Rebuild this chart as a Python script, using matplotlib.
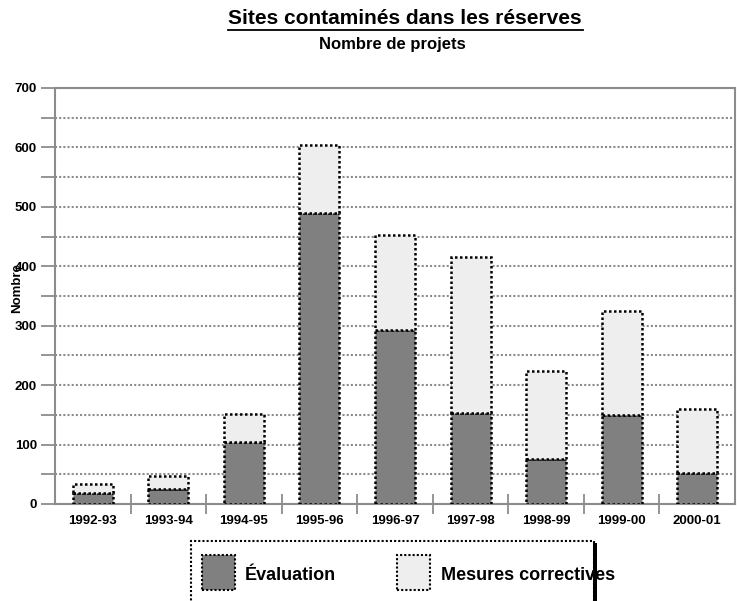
import matplotlib
matplotlib.use("Agg")
import matplotlib.pyplot as plt
from matplotlib.patches import Rectangle
import numpy as np

plt.rcParams['font.family'] = ['Liberation Sans', 'DejaVu Sans']
plt.rcParams['font.weight'] = 'bold'

years = ["1992-93", "1993-94", "1994-95", "1995-96", "1996-97",
         "1997-98", "1998-99", "1999-00", "2000-01"]
evaluation = [18, 26, 104, 490, 293, 153, 75, 150, 52]
mesures = [15, 21, 47, 114, 160, 263, 149, 175, 108]

title = "Sites contaminés dans les réserves"
subtitle = "Nombre de projets"
ylabel = "Nombre"
legend_labels = ["Évaluation", "Mesures correctives"]

c_eval = "#808080"
c_mes = "#eeeeee"
grid_c = "#8c8c8c"
dots = (0, (1, 1))

fig = plt.figure(figsize=(7.37, 6.01), dpi=100)
ax = fig.add_axes([55 / 737, 1 - 504 / 601, 680 / 737, 416 / 601])

x = np.arange(len(years))
w = 0.53
ax.bar(x, evaluation, width=w, color=c_eval, edgecolor="black",
       linewidth=1.8, linestyle=dots, zorder=3)
ax.bar(x, mesures, width=w, bottom=evaluation, color=c_mes, edgecolor="black",
       linewidth=1.8, linestyle=dots, zorder=3)

ax.set_xlim(-0.5, len(years) - 0.5)
ax.set_ylim(0, 700)
ax.set_yticks(np.arange(0, 701, 100))
ax.set_yticks(np.arange(50, 700, 100), minor=True)
ax.yaxis.grid(True, which="both", color=grid_c, linestyle=dots, linewidth=1.5, zorder=0)
ax.tick_params(axis="y", which="both", length=10, width=1.3, color=grid_c,
               labelsize=9.5, pad=3)
for t in ax.yaxis.get_major_ticks() + ax.yaxis.get_minor_ticks():
    t.tick1line.set_linestyle(dots)

ax.set_xticks(x)
ax.set_xticklabels(years, fontsize=9.5, fontweight="bold")
ax.tick_params(axis="x", which="major", length=0, pad=8)
ax.set_xticks(np.arange(0.5, len(years) - 0.5, 1), minor=True)
ax.tick_params(axis="x", which="minor", length=14, width=1.3, color=grid_c,
               direction="inout")
for t in ax.xaxis.get_minor_ticks():
    t.tick1line.set_linestyle(dots)

for sp in ax.spines.values():
    sp.set_color(grid_c)
    sp.set_linestyle(dots)
    sp.set_linewidth(1.5)

for lab in ax.get_yticklabels():
    lab.set_fontweight("bold")

fig.text(17 / 737, 1 - 288 / 601, ylabel, rotation=90, ha="center", va="center",
         fontsize=9.5, fontweight="bold")

fig.text(405 / 737, 1 - 19 / 601, title, ha="center", va="center",
         fontsize=15, fontweight="bold")
fig.add_artist(plt.Line2D([228 / 737, 583 / 737], [1 - 30 / 601, 1 - 30 / 601],
                          color="black", linewidth=1.3))
fig.text(392 / 737, 1 - 44 / 601, subtitle, ha="center", va="center",
         fontsize=12, fontweight="bold")

# legend box drawn in figure pixels
def frect(x0, y0, wd, ht, **kw):
    r = Rectangle((x0 / 737, 1 - (y0 + ht) / 601), wd / 737, ht / 601,
                  transform=fig.transFigure, **kw)
    fig.add_artist(r)

frect(191, 541, 403, 70, facecolor="white", edgecolor="black",
      linewidth=1.5, linestyle=dots)
frect(202, 555, 33, 35, facecolor=c_eval, edgecolor="black",
      linewidth=1.5, linestyle=dots)
frect(397, 555, 33, 35, facecolor=c_mes, edgecolor="black",
      linewidth=1.5, linestyle=dots)
fig.text(245 / 737, 1 - 575 / 601, legend_labels[0], ha="left", va="center",
         fontsize=13, fontweight="bold")
fig.text(441 / 737, 1 - 575 / 601, legend_labels[1], ha="left", va="center",
         fontsize=13, fontweight="bold")
frect(593, 543, 4, 70, facecolor="black", edgecolor="none", zorder=10)

fig.savefig("out.png", dpi=100)
